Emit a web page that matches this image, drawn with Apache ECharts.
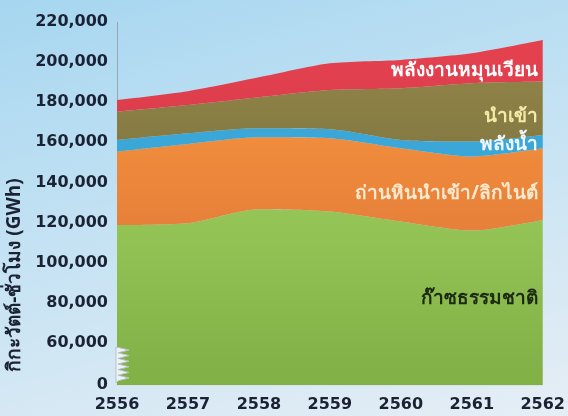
<!DOCTYPE html>
<html><head><meta charset="utf-8">
<script src="https://cdn.jsdelivr.net/npm/echarts@6/dist/echarts.min.js"></script>
<style>
html,body{margin:0;padding:0;}
body{width:568px;height:416px;background:linear-gradient(165deg,#a6d6f0 0%,#c4e2f3 45%,#e6eef5 100%);}
#c{width:568px;height:416px;}
</style></head>
<body><div id="c"></div>
<script>
const years = ['2556','2557','2558','2559','2560','2561','2562'];
const seriesNames = ['ก๊าซธรรมชาติ','ถ่านหินนำเข้า/ลิกไนต์','พลังน้ำ','นำเข้า','พลังงานหมุนเวียน'];
const gas = [118800,119700,126600,125500,120500,116000,121300];
const coal = [36600,39500,35900,36500,36500,36900,35700];
const hydro = [5800,5300,4500,4500,4200,7500,6700];
const imports = [14100,14100,15500,19600,25800,29100,26600];
const renewable = [5800,6900,9900,13300,14100,14900,20700];
const yAxisTitle = 'กิกะวัตต์-ชั่วโมง (GWh)';

const colors = [
  ['#96c557','#80b046'],
  ['#f08c3c','#e6803a'],
  ['#3ba7d8','#3ba7d8'],
  ['#8e8247','#857a42'],
  ['#e5424f','#dd3d4c']
];
const values = [gas, coal, hydro, imports, renewable];
const chart = echarts.init(document.getElementById('c'), null, {renderer:'canvas'});
const font = '"Open Sans", "Noto Sans", sans-serif';
const numFont = '"DejaVu Sans", sans-serif';
const series = values.map((v,i)=>({
  name: seriesNames[i], type:'line', stack:'total', data:v, smooth:0.25,
  symbol:'none', lineStyle:{width:0},
  areaStyle:{opacity:1, color:new echarts.graphic.LinearGradient(0,0,0,1,[{offset:0,color:colors[i][0]},{offset:1,color:colors[i][1]}])}
}));
const labelCfg = [
  {t:seriesNames[4], y:72, c:'#ffffff'},
  {t:seriesNames[3], y:118, c:'#f4eba8'},
  {t:seriesNames[2], y:146, c:'#eef7ff'},
  {t:seriesNames[1], y:195, c:'#fde9cf'},
  {t:seriesNames[0], y:300, c:'#1c2a14'}
];
// zigzag decoration at the axis break
const zig = [[116,347]];
for (let k=0;k<6;k++){ zig.push([129,350+k*5.6]); zig.push([118,352.8+k*5.6]); }
zig.push([116,383]);
chart.setOption({
  backgroundColor:'transparent',
  animation:false,
  grid:{left:117,right:23,top:22,bottom:31},
  xAxis:{type:'category',data:years,boundaryGap:false,
    axisLine:{show:true,lineStyle:{color:'#d8e2ea',width:1}},axisTick:{show:false},
    axisLabel:{color:'#1b2234',fontSize:16,fontWeight:'bold',fontFamily:numFont,margin:12}},
  yAxis:{type:'value',min:0,max:220000,interval:20000,
    breaks:[{start:0,end:60000,gap:21000}],
    breakArea:{show:false},
    axisLine:{show:true,lineStyle:{color:'#9aa6b0',width:1}},axisTick:{show:false},splitLine:{show:false},
    axisLabel:{color:'#1b2234',fontSize:16,fontWeight:'bold',fontFamily:numFont,margin:9,
      formatter:v=>v.toLocaleString('en-US')}},
  series:series,
  graphic:labelCfg.map(l=>({type:'text',right:30,top:l.y-11,z:100,
    style:{text:l.t,fill:l.c,font:'bold 19px '+font,textAlign:'right'}})).concat([
    {type:'polygon',z:100,shape:{points:zig},style:{fill:'#eef3f7',stroke:'#b8c2ca',lineWidth:1}},
    {type:'text',x:15,y:275,rotation:Math.PI/2,z:100,
      style:{text:yAxisTitle,fill:'#1b2234',font:'bold 19px '+font,textAlign:'center',textVerticalAlign:'middle'}}
  ])
});
</script></body></html>
